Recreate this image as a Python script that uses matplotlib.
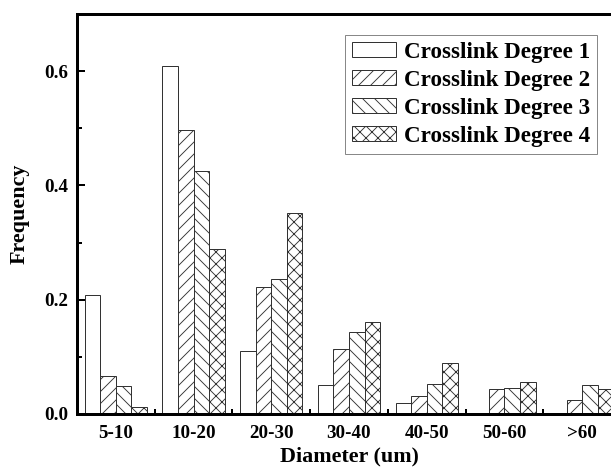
import numpy as np
import matplotlib.pyplot as plt
from matplotlib.ticker import MultipleLocator

plt.rcParams['font.family'] = ['Liberation Serif', 'DejaVu Serif']
plt.rcParams['font.weight'] = 'bold'
plt.rcParams['axes.labelweight'] = 'bold'
plt.rcParams['hatch.linewidth'] = 0.9
plt.rcParams['hatch.color'] = '#444444'

categories = ['5-10', '10-20', '20-30', '30-40', '40-50', '50-60', '>60']
degree1 = [0.209, 0.609, 0.110, 0.050, 0.020, 0.0, 0.0]
degree2 = [0.067, 0.497, 0.223, 0.114, 0.031, 0.044, 0.024]
degree3 = [0.049, 0.425, 0.236, 0.144, 0.052, 0.045, 0.050]
degree4 = [0.012, 0.289, 0.352, 0.161, 0.089, 0.056, 0.043]
series_names = ['Crosslink Degree 1', 'Crosslink Degree 2',
                'Crosslink Degree 3', 'Crosslink Degree 4']
hatches = ['', '//', '\\\\', 'xx']

fig = plt.figure(figsize=(611 / 72, 468 / 72), dpi=72)
# right spine lies just past the figure edge
ax = fig.add_axes([77 / 611, 54 / 468, 544 / 611, 400 / 468])

x = np.arange(len(categories))
w = 0.2
for i, (vals, name, h) in enumerate(zip([degree1, degree2, degree3, degree4],
                                       series_names, hatches)):
    ax.bar(x + (i - 1.5) * w, vals, w, color='white', edgecolor='#333333',
           linewidth=1.0, hatch=h, label=name, zorder=2)

ax.set_xlim(-0.5, 6.5)
ax.set_ylim(0, 0.7)
ax.set_xticks(x)
ax.set_xticklabels(categories)
ax.xaxis.set_minor_locator(MultipleLocator(1, offset=0.5))
ax.set_yticks([0.0, 0.2, 0.4, 0.6])
ax.yaxis.set_minor_locator(MultipleLocator(0.1))

for s in ax.spines.values():
    s.set_linewidth(3)
ax.tick_params(which='both', direction='in', width=2, labelsize=19, zorder=5)
ax.tick_params(which='major', length=8, pad=9)
ax.tick_params(which='minor', length=5)
ax.tick_params(axis='x', pad=11)

ax.set_xlabel('Diameter (um)', fontsize=22, labelpad=4)
ax.set_ylabel('Frequency', fontsize=22, labelpad=14)

leg = ax.legend(loc='upper right', bbox_to_anchor=(597 / 611, 1 - 35 / 468),
                bbox_transform=fig.transFigure, borderaxespad=0,
                fontsize=23, fancybox=False, frameon=True, framealpha=1,
                edgecolor='#888888', handlelength=1.9, handleheight=0.65,
                handletextpad=0.35, labelspacing=0.3, borderpad=0.3)
leg.get_frame().set_linewidth(1.0)

fig.savefig('out.png', dpi=72)
